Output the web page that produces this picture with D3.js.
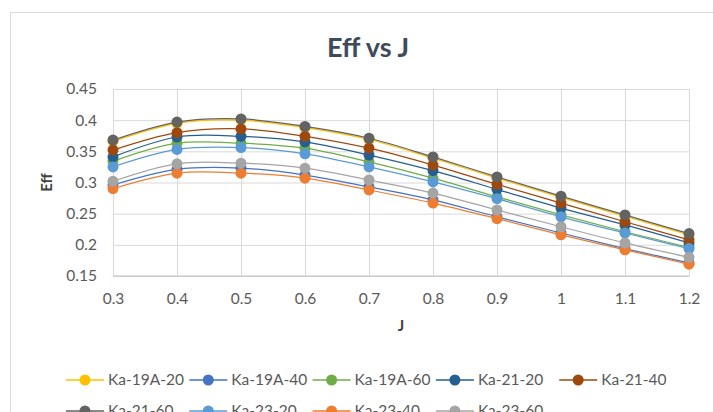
<!DOCTYPE html>
<html>
<head>
<meta charset="utf-8">
<script src="https://cdn.jsdelivr.net/npm/d3@7"></script>
<style>
  body { margin: 0; background: #fff; }
  svg { display: block; font-family: Lato, "Open Sans", sans-serif; }
</style>
</head>
<body>
<svg id="chart" width="713" height="412"></svg>
<script>
// Advance ratio J on the x axis
const jValues = [0.3, 0.4, 0.5, 0.6, 0.7, 0.8, 0.9, 1.0, 1.1, 1.2];

// Efficiency per propeller configuration
const ka19A20 = [0.366, 0.395, 0.400, 0.388, 0.369, 0.339, 0.307, 0.276, 0.246, 0.216];
const ka19A40 = [0.296, 0.321, 0.323, 0.312, 0.293, 0.272, 0.245, 0.219, 0.194, 0.171];
const ka19A60 = [0.334, 0.363, 0.363, 0.355, 0.333, 0.307, 0.277, 0.248, 0.221, 0.196];
const ka2120  = [0.341, 0.373, 0.374, 0.365, 0.344, 0.319, 0.289, 0.259, 0.232, 0.203];
const ka2140  = [0.352, 0.380, 0.386, 0.374, 0.355, 0.328, 0.297, 0.267, 0.237, 0.208];
const ka2160  = [0.368, 0.397, 0.402, 0.390, 0.371, 0.341, 0.309, 0.278, 0.248, 0.218];
const ka2320  = [0.325, 0.353, 0.356, 0.346, 0.325, 0.301, 0.274, 0.245, 0.219, 0.194];
const ka2340  = [0.290, 0.315, 0.315, 0.307, 0.288, 0.267, 0.242, 0.216, 0.192, 0.169];
const ka2360  = [0.302, 0.330, 0.331, 0.323, 0.304, 0.283, 0.256, 0.229, 0.203, 0.180];

const seriesNames  = ["Ka-19A-20", "Ka-19A-40", "Ka-19A-60", "Ka-21-20", "Ka-21-40",
                      "Ka-21-60", "Ka-23-20", "Ka-23-40", "Ka-23-60"];
const seriesValues = [ka19A20, ka19A40, ka19A60, ka2120, ka2140, ka2160, ka2320, ka2340, ka2360];
const seriesColors = ["#FFC000", "#4472C4", "#70AD47", "#255E91", "#9E480E",
                      "#636363", "#5B9BD5", "#ED7D31", "#A5A5A5"];

const xTicks = [0.3, 0.4, 0.5, 0.6, 0.7, 0.8, 0.9, 1.0, 1.1, 1.2];
const xTickLabels = ["0.3", "0.4", "0.5", "0.6", "0.7", "0.8", "0.9", "1", "1.1", "1.2"];
const yTicks = [0.15, 0.2, 0.25, 0.3, 0.35, 0.4, 0.45];
const yTickLabels = ["0.15", "0.2", "0.25", "0.3", "0.35", "0.4", "0.45"];

const svg = d3.select("#chart");
const plot = { left: 113, right: 689, top: 89, bottom: 276 };

const x = d3.scaleLinear().domain([0.3, 1.2]).range([plot.left, plot.right]);
const y = d3.scaleLinear().domain([0.15, 0.45]).range([plot.bottom, plot.top]);

// chart frame
svg.append("rect")
  .attr("x", 10.5).attr("y", 12.5)
  .attr("width", 730).attr("height", 430)
  .attr("fill", "#fff").attr("stroke", "#d9d9d9");

// title
svg.append("text")
  .attr("x", 368).attr("y", 57)
  .attr("text-anchor", "middle")
  .attr("font-size", 27).attr("font-weight", 700)
  .attr("fill", "#3f4a5a")
  .text("Eff vs J");

// horizontal gridlines + y labels
const yAxis = svg.append("g")
  .attr("transform", `translate(${plot.left},0)`)
  .call(d3.axisLeft(y).tickValues(yTicks)
    .tickFormat((d, i) => yTickLabels[i])
    .tickSize(-(plot.right - plot.left)).tickPadding(16));
yAxis.select(".domain").remove();
yAxis.selectAll(".tick line").attr("stroke", "#d9d9d9").attr("stroke-width", 1);
yAxis.selectAll(".tick text").attr("fill", "#595959").attr("font-size", 15.5)
  .attr("font-family", "Lato, sans-serif");

// vertical gridlines + x labels
const xAxis = svg.append("g")
  .attr("transform", `translate(0,${plot.bottom})`)
  .call(d3.axisBottom(x).tickValues(xTicks)
    .tickFormat((d, i) => xTickLabels[i])
    .tickSize(-(plot.bottom - plot.top)).tickPadding(17));
xAxis.select(".domain").attr("stroke", "#bfbfbf").attr("d", `M${plot.left},0H${plot.right}`);
xAxis.selectAll(".tick line").attr("stroke", "#d9d9d9").attr("stroke-width", 1);
xAxis.selectAll(".tick text").attr("fill", "#595959").attr("font-size", 15.5)
  .attr("font-family", "Lato, sans-serif");

// axis titles
svg.append("text")
  .attr("x", (plot.left + plot.right) / 2).attr("y", 331)
  .attr("text-anchor", "middle")
  .attr("font-size", 15).attr("font-weight", 700).attr("fill", "#404040")
  .text("J");
svg.append("text")
  .attr("transform", `translate(52,${(plot.top + plot.bottom) / 2}) rotate(-90)`)
  .attr("text-anchor", "middle")
  .attr("font-size", 15).attr("font-weight", 700).attr("fill", "#404040")
  .text("Eff");

// smoothed series lines with circle markers
const line = d3.line()
  .x((d, i) => x(jValues[i]))
  .y(d => y(d))
  .curve(d3.curveCardinal.tension(0));

const series = svg.append("g").selectAll("g")
  .data(seriesValues)
  .join("g");

series.append("path")
  .attr("d", d => line(d))
  .attr("fill", "none")
  .attr("stroke", (d, i) => seriesColors[i])
  .attr("stroke-width", 1.25);

series.each(function (vals, si) {
  d3.select(this).selectAll("circle")
    .data(vals)
    .join("circle")
    .attr("cx", (d, i) => x(jValues[i]))
    .attr("cy", d => y(d))
    .attr("r", 5.5)
    .attr("fill", seriesColors[si]);
});

// legend, two rows of five columns
const legendX0 = 66, legendColW = 123.3, legendRowY = [380, 411];
const legend = svg.append("g").selectAll("g")
  .data(seriesNames)
  .join("g")
  .attr("transform", (d, i) =>
    `translate(${legendX0 + (i % 5) * legendColW},${legendRowY[Math.floor(i / 5)]})`);

legend.append("line")
  .attr("x1", 0).attr("x2", 38).attr("y1", 0).attr("y2", 0)
  .attr("stroke", (d, i) => seriesColors[i]).attr("stroke-width", 1.5);
legend.append("circle")
  .attr("cx", 19).attr("cy", 0).attr("r", 5.5)
  .attr("fill", (d, i) => seriesColors[i]);
legend.append("text")
  .attr("x", 42).attr("y", 0).attr("dy", "0.35em")
  .attr("font-size", 15.5).attr("fill", "#595959")
  .text(d => d);
</script>
</body>
</html>
